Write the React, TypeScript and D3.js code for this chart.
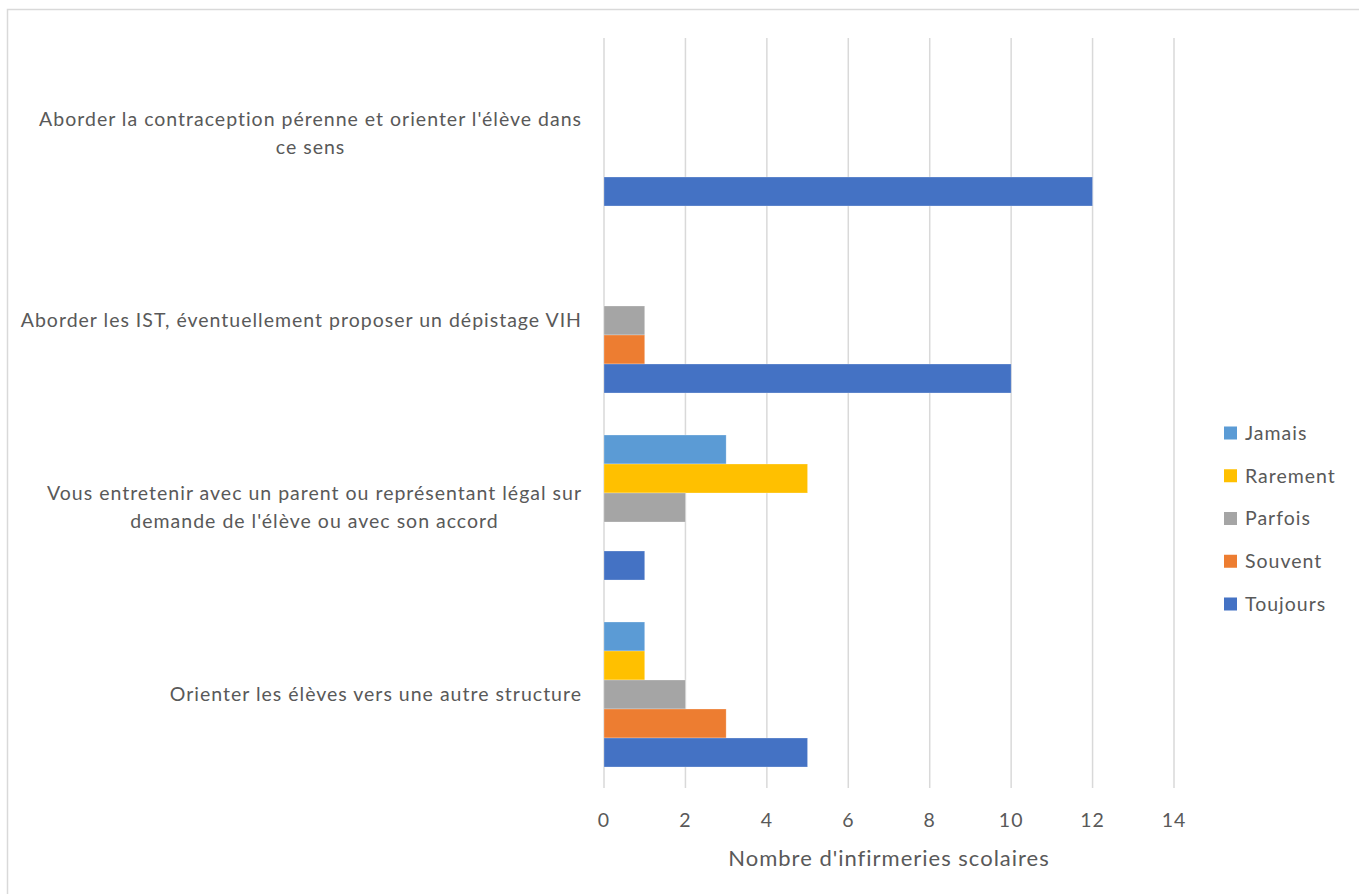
import React, { useEffect, useRef } from "react";
import * as d3 from "d3";

const categories = [
  ["Aborder la contraception pérenne et orienter l'élève dans", "ce sens"],
  ["Aborder les IST, éventuellement proposer un dépistage VIH"],
  ["Vous entretenir avec un parent ou représentant légal sur", "demande de l'élève ou avec son accord"],
  ["Orienter les élèves vers une autre structure"],
];
const seriesNames = ["Jamais", "Rarement", "Parfois", "Souvent", "Toujours"];
const seriesColors = ["#5B9BD5", "#FFC000", "#A5A5A5", "#ED7D31", "#4472C4"];
const jamais = [0, 0, 3, 1];
const rarement = [0, 0, 5, 1];
const parfois = [0, 1, 2, 2];
const souvent = [0, 1, 0, 3];
const toujours = [12, 10, 1, 5];
const xTicks = [0, 2, 4, 6, 8, 10, 12, 14];
const axisTitle = "Nombre d'infirmeries scolaires";

const W = 1359;
const H = 894;
const FONT = "Lato, 'Open Sans', sans-serif";
const TXT = "#595959";
const FS = 19.5;
const LS = 1;

export default function App() {
  const ref = useRef<SVGSVGElement>(null);
  useEffect(() => {
    const svg = d3.select(ref.current);
    svg.selectAll("*").remove();
    const values = [jamais, rarement, parfois, souvent, toujours];
    const x = d3.scaleLinear().domain([0, 14]).range([604, 1174]);
    const y = d3.scaleBand<number>().domain(d3.range(categories.length)).range([40, 788]).padding(0);
    const inner = d3
      .scaleBand<number>()
      .domain(d3.range(seriesNames.length))
      .range([0, y.bandwidth()])
      .paddingInner(0)
      .paddingOuter(0.724);

    svg.append("rect").attr("x", 7.5).attr("y", 9.5).attr("width", W + 10).attr("height", H + 10)
      .attr("fill", "white").attr("stroke", "#d9d9d9").attr("stroke-width", 1.5);

    // gridlines
    svg.append("g").selectAll("line").data(xTicks).join("line")
      .attr("x1", (d) => x(d)).attr("x2", (d) => x(d))
      .attr("y1", 38).attr("y2", 788)
      .attr("stroke", "#d9d9d9").attr("stroke-width", 1.5);

    // bars
    const g = svg.append("g");
    categories.forEach((_, ci) => {
      seriesNames.forEach((_, si) => {
        const v = values[si][ci];
        if (v <= 0) return;
        g.append("rect")
          .attr("x", x(0))
          .attr("y", (y(ci) as number) + (inner(si) as number))
          .attr("width", x(v) - x(0))
          .attr("height", inner.bandwidth())
          .attr("fill", seriesColors[si])
          .attr("stroke", "white").attr("stroke-opacity", 0.35).attr("stroke-width", 0.75);
      });
    });

    // category labels
    categories.forEach((lines, ci) => {
      const cy = (y(ci) as number) + y.bandwidth() / 2;
      const lh = 28;
      const tg = svg.append("g");
      const texts = lines.map((l, li) =>
        tg.append("text")
          .attr("y", cy + (li - (lines.length - 1) / 2) * lh)
          .attr("dy", "0.35em")
          .attr("text-anchor", "middle")
          .attr("font-family", FONT).attr("font-size", FS).attr("letter-spacing", LS).attr("fill", TXT)
          .text(l)
      );
      const maxW = d3.max(texts, (t) => (t.node() as SVGTextElement).getComputedTextLength()) || 0;
      texts.forEach((t) => t.attr("x", 582 - maxW / 2));
    });

    // x tick labels
    svg.append("g").selectAll("text").data(xTicks).join("text")
      .attr("x", (d) => x(d)).attr("y", 820).attr("dy", "0.35em")
      .attr("text-anchor", "middle").attr("font-family", FONT).attr("font-size", FS).attr("letter-spacing", LS).attr("fill", TXT)
      .text((d) => String(d));

    svg.append("text").attr("x", 889).attr("y", 858).attr("dy", "0.35em")
      .attr("text-anchor", "middle").attr("font-family", FONT).attr("font-size", 22).attr("letter-spacing", LS).attr("fill", TXT)
      .text(axisTitle);

    // legend
    const lg = svg.append("g");
    seriesNames.forEach((n, i) => {
      const cy = 433 + i * 42.75;
      lg.append("rect").attr("x", 1224).attr("y", cy - 6.5).attr("width", 13).attr("height", 13).attr("fill", seriesColors[i]);
      lg.append("text").attr("x", 1245).attr("y", cy).attr("dy", "0.35em")
        .attr("font-family", FONT).attr("font-size", FS).attr("letter-spacing", LS).attr("fill", TXT).text(n);
    });
  }, []);

  return (
    <div style={{ position: "absolute", left: 0, top: 0, width: W, height: H, background: "white" }}>
      <svg ref={ref} width={W} height={H} style={{ display: "block" }} />
    </div>
  );
}
